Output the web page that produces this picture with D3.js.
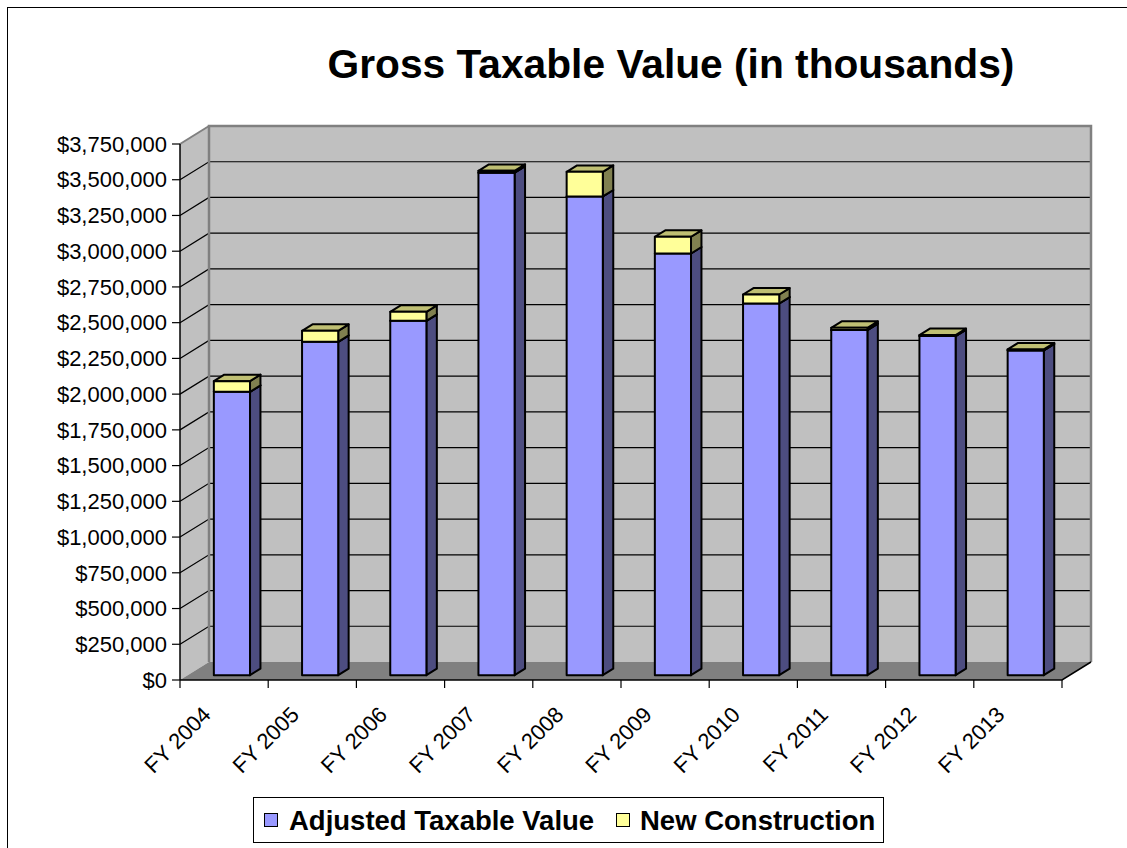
<!DOCTYPE html>
<html><head><meta charset="utf-8">
<script src="https://cdn.jsdelivr.net/npm/d3@7"></script>
<style>body{margin:0;background:#fff}svg{display:block;font-family:"Liberation Sans",Arial,sans-serif}</style>
</head><body><svg id="c" width="1127" height="848"></svg>
<script>
const categories = ["FY 2004","FY 2005","FY 2006","FY 2007","FY 2008","FY 2009","FY 2010","FY 2011","FY 2012","FY 2013"];
const adjustedValues = [1982000,2332000,2479000,3515000,3349000,2950000,2600000,2414000,2372000,2272000];
const newConstruction = [75000,77000,63000,13000,172000,117000,63000,16000,7000,7000];
const yTicks = [0,250000,500000,750000,1000000,1250000,1500000,1750000,2000000,2250000,2500000,2750000,3000000,3250000,3500000,3750000];
const seriesNames = ["Adjusted Taxable Value","New Construction"];
const titleText = "Gross Taxable Value (in thousands)";

const svg = d3.select("#c");
const DX = 29, DY = -18;           // depth offset of back wall
const Z1 = 0.27, Z2 = 0.63;        // bar front/back depth fractions
const x = d3.scaleBand().domain(categories).range([180, 1062]).padding(0);
const y = d3.scaleLinear().domain([0, 3750000]).range([680, 144]);
const P = (px, v, z) => [px + z*DX, y(v) + z*DY];

// outer border
svg.append("rect").attr("x",7.5).attr("y",7.5).attr("width",1130).attr("height",850)
  .attr("fill","#fff").attr("stroke","#000").attr("stroke-width",1);

// walls
const x0 = x.range()[0], x1 = x.range()[1];
const vmax = y.domain()[1];
const poly = pts => pts.map(p => p.join(",")).join(" ");
svg.append("polygon").attr("points", poly([P(x0,0,0),P(x0,vmax,0),P(x0,vmax,1),P(x0,0,1)]))
  .attr("fill","#c0c0c0");
svg.append("polygon").attr("points", poly([P(x0,0,1),P(x0,vmax,1),P(x1,vmax,1),P(x1,0,1)]))
  .attr("fill","#c0c0c0");
// gridlines
yTicks.filter(v => v > 0 && v < vmax).forEach(v => {
  const a = P(x0,v,0), b = P(x0,v,1), c = P(x1,v,1);
  svg.append("polyline").attr("points", poly([a,b,c])).attr("fill","none")
    .attr("stroke","#000").attr("stroke-width",1.2);
});
// back wall border
svg.append("polyline").attr("points", poly([P(x0,0,1),P(x0,vmax,1),P(x1,vmax,1),P(x1,0,1)]))
  .attr("fill","none").attr("stroke","#808080").attr("stroke-width",2.5);
svg.append("line").attr("x1",P(x0,vmax,0)[0]).attr("y1",P(x0,vmax,0)[1])
  .attr("x2",P(x0,vmax,1)[0]).attr("y2",P(x0,vmax,1)[1]).attr("stroke","#808080").attr("stroke-width",2);
// floor
svg.append("polygon").attr("points", poly([P(x0,0,0),P(x1,0,0),P(x1,0,1),P(x0,0,1)]))
  .attr("fill","#808080");

// bars
const bw = x.bandwidth()*0.41;
function box(px, v0, v1, front, side, top) {
  const g = svg.append("g").attr("stroke","#000").attr("stroke-width",2).attr("stroke-linejoin","round");
  const L = px, R = px + bw;
  g.append("polygon").attr("points", poly([P(R,v0,Z1),P(R,v1,Z1),P(R,v1,Z2),P(R,v0,Z2)])).attr("fill",side);
  g.append("polygon").attr("points", poly([P(L,v1,Z1),P(R,v1,Z1),P(R,v1,Z2),P(L,v1,Z2)])).attr("fill",top);
  g.append("polygon").attr("points", poly([P(L,v0,Z1),P(R,v0,Z1),P(R,v1,Z1),P(L,v1,Z1)])).attr("fill",front);
}
categories.forEach((c,i) => {
  const px = x(c) + (x.bandwidth()-bw)/2;
  box(px, 0, adjustedValues[i], "#9999ff", "#4d4d80", "#7373bf");
  box(px, adjustedValues[i], adjustedValues[i]+newConstruction[i], "#ffff99", "#808050", "#bfbf73");
});

// axes
svg.append("line").attr("x1",x0).attr("x2",x0).attr("y1",y(0)).attr("y2",y(vmax)).attr("stroke","#000").attr("stroke-width",1.5);
svg.append("polyline").attr("points", poly([P(x0,0,0),P(x1,0,0),P(x1,0,1)])).attr("fill","none").attr("stroke","#000").attr("stroke-width",1.5);
const fmt = v => "$" + d3.format(",")(v);
yTicks.forEach(v => {
  svg.append("line").attr("x1",x0-8).attr("x2",x0).attr("y1",y(v)).attr("y2",y(v)).attr("stroke","#000").attr("stroke-width",1.2);
  svg.append("text").attr("x",x0-13).attr("y",y(v)).attr("dy","0.35em").attr("text-anchor","end")
    .attr("font-size",22).attr("fill","#000").text(fmt(v));
});
const bounds = categories.map(c => x(c)).concat([x1]);
bounds.forEach(b => svg.append("line").attr("x1",b).attr("x2",b).attr("y1",y(0)).attr("y2",y(0)+8).attr("stroke","#000").attr("stroke-width",1.2));
categories.forEach(c => {
  const cx = x(c) + x.bandwidth()/2 - 12;
  svg.append("text").attr("transform",`translate(${cx},716) rotate(-45)`).attr("text-anchor","end")
    .attr("font-size",22).attr("fill","#000").text(c);
});

// title
const t = svg.append("text").attr("x",671).attr("y",78).attr("text-anchor","middle")
  .attr("font-size",36).attr("font-weight","bold").attr("fill","#000").text(titleText);
const tl = t.node().getComputedTextLength();
t.attr("font-size", 36*687/tl);

// legend
svg.append("rect").attr("x",253.5).attr("y",797.5).attr("width",630).attr("height",45)
  .attr("fill","#fff").attr("stroke","#000").attr("stroke-width",1);
const legColors = ["#9999ff","#ffff99"];
const legX = [264, 616];
const legTX = [289, 640];
seriesNames.forEach((n,i) => {
  svg.append("rect").attr("x",legX[i]+0.5).attr("y",813.5).attr("width",13).attr("height",13)
    .attr("fill",legColors[i]).attr("stroke","#000").attr("stroke-width",1);
  svg.append("text").attr("x",legTX[i]).attr("y",830).attr("font-size",27.5).attr("font-weight","bold")
    .attr("fill","#000").text(n);
});
</script></body></html>
